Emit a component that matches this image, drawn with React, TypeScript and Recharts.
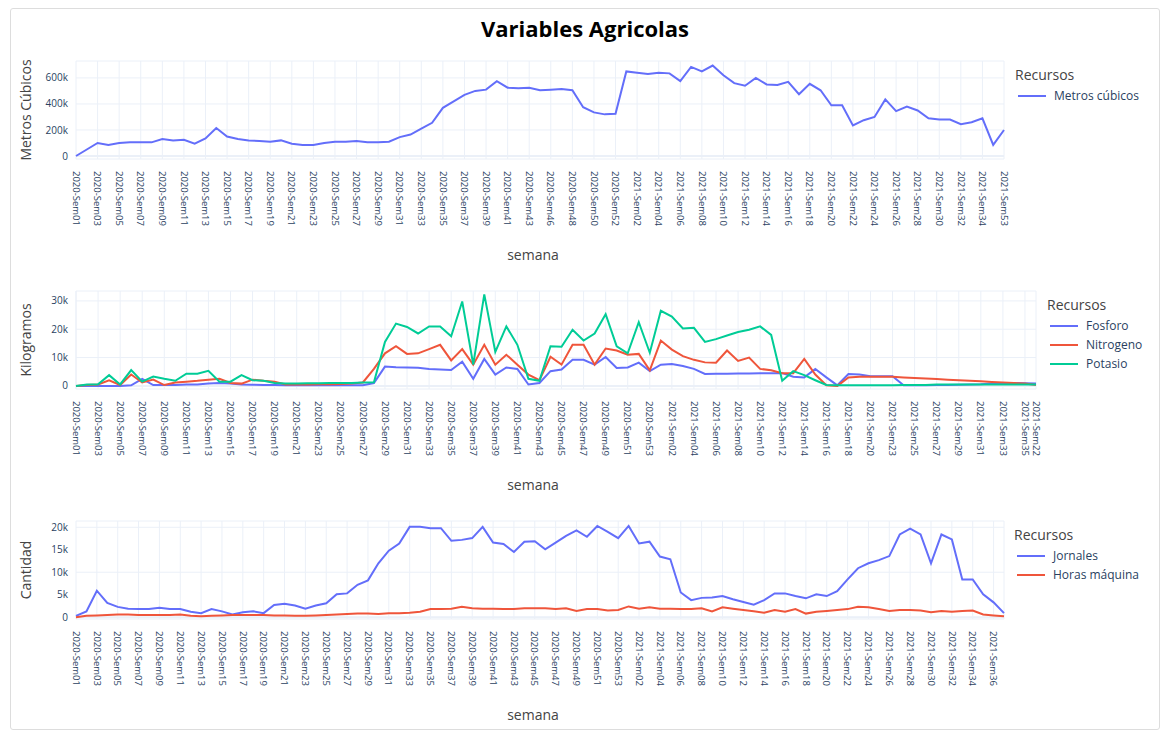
import React from "react";
import { CartesianGrid, Line, LineChart, ReferenceLine, XAxis, YAxis } from "recharts";

const pad = (n: number) => (n < 10 ? "0" + n : "" + n);
const weeks = (year: number, from: number, to: number, skip: number[] = []) => {
  const out: string[] = [];
  for (let w = from; w <= to; w++) if (!skip.includes(w)) out.push(`${year}-Sem${pad(w)}`);
  return out;
};

// Chart 1 — metros cúbicos (thousands)
const cat1 = [...weeks(2020, 1, 52, [44]), ...weeks(2021, 1, 35), "2021-Sem53"];
const metros = [
  0, 50, 100, 85, 100, 105, 105, 105, 130, 120, 125, 95, 135, 215, 150, 130, 120, 115, 110, 120,
  95, 85, 85, 100, 110, 110, 115, 105, 105, 110, 145, 165, 210, 255, 370, 420, 470, 500, 510, 575,
  525, 520, 525, 505, 510, 515, 505, 375, 335, 320, 325, 650, 640, 630, 640, 635, 575, 685, 650, 695,
  620, 560, 540, 600, 550, 545, 570, 475, 555, 505, 390, 390, 235, 275, 300, 435, 345, 380, 350, 290,
  280, 280, 245, 260, 290, 85, 200,
];

// Chart 2 — kilogramos (thousands)
const cat2 = [...weeks(2020, 1, 53), ...weeks(2021, 1, 35, [22]), "2021-Sem22"];
const fosforo = [
  0, 0, 0, 0, 0, 0.2, 2.5, 0.3, 0.3, 0.3, 0.5, 0.5, 0.8, 1.0, 0.8, 0.5, 0.4, 0.3, 0.3, 0.2,
  0.2, 0.2, 0.2, 0.2, 0.2, 0.2, 0.2, 1.0, 6.8, 6.6, 6.5, 6.4, 6.0, 5.8, 5.6, 8.5, 2.5, 9.5, 4.0, 6.5,
  6.0, 0.5, 1.0, 5.2, 5.8, 9.2, 9.2, 7.5, 10.2, 6.3, 6.5, 8.2, 5.2, 7.5, 7.7, 7.0, 6.0, 4.2, 4.3, 4.3,
  4.4, 4.4, 4.5, 4.5, 4.5, 3.2, 3.0, 6.0, 3.0, 0.2, 4.2, 4.0, 3.4, 3.4, 3.4, 0.2, 0.2, 0.2, 0.3, 0.3,
  0.4, 0.5, 0.6, 0.8, 1.0, 1.0, 0.9, 0.8,
];
const nitrogeno = [
  0, 0.3, 0.5, 2.0, 0.3, 4.0, 1.2, 2.2, 0.3, 1.2, 1.5, 1.8, 2.2, 2.5, 1.0, 0.8, 2.2, 1.8, 1.5, 0.5,
  0.5, 0.5, 0.6, 0.6, 0.7, 0.8, 1.2, 6, 11.5, 14, 11.3, 11.5, 13, 14.5, 9, 13, 7.5, 14.5, 7.5, 11,
  7.5, 4, 2, 10.3, 7.5, 14.5, 14.5, 7.5, 13.2, 12.5, 11, 11.3, 5.5, 16, 12.8, 10.5, 9.2, 8.3, 8.2, 12.5,
  8.8, 10, 6, 5.5, 4.5, 4.5, 9.5, 4, 0.2, 0, 3, 3.2, 3.2, 3.2, 3.2, 3.0, 2.8, 2.6, 2.4, 2.2,
  2.0, 1.8, 1.6, 1.4, 1.2, 1.0, 0.8, 0.3,
];
const potasio = [
  0, 0.5, 0.6, 3.8, 0.5, 5.6, 1.5, 3.3, 2.5, 1.8, 4.3, 4.3, 5.3, 1.5, 1.5, 3.8, 2.0, 1.8, 1.0, 0.8,
  0.8, 0.9, 0.9, 1.0, 1.0, 1.0, 1.2, 1.3, 15.5, 22, 20.8, 18.5, 21, 21, 17.5, 29.8, 7.5, 32.3, 12, 21,
  14.5, 2.5, 1.8, 14, 13.8, 19.8, 16, 18.5, 25.3, 14, 11.5, 22.5, 11.7, 26.5, 24.5, 20.3, 20.5, 15.5, 16.5, 17.8,
  19, 19.8, 21, 18, 1.8, 5.2, 3.8, 2.0, 0.3, 0.2, 0.2, 0.2, 0.2, 0.2, 0.2, 0.3, 0.3, 0.3, 0.5, 0.5,
  0.5, 0.5, 0.5, 0.5, 0.5, 0.5, 0.5, 0.5,
];

// Chart 3 — cantidad (thousands)
const cat3 = [...weeks(2020, 1, 53), ...weeks(2021, 1, 37)];
const jornales = [
  0.3, 1.3, 5.9, 3.2, 2.3, 1.9, 1.8, 1.8, 2.1, 1.8, 1.8, 1.2, 0.9, 1.8, 1.3, 0.6, 1.1, 1.3, 0.9, 2.7,
  3.0, 2.6, 1.9, 2.6, 3.1, 5.1, 5.3, 7.2, 8.2, 12, 14.8, 16.4, 20.1, 20.1, 19.8, 19.8, 17, 17.2, 17.6, 20.1,
  16.6, 16.3, 14.5, 16.8, 16.9, 15.1, 16.6, 18.1, 19.3, 17.9, 20.3, 19, 17.6, 20.3, 16.4, 16.8, 13.5, 12.9, 5.5, 3.8,
  4.3, 4.4, 4.7, 4.0, 3.4, 2.8, 3.8, 5.3, 5.3, 4.7, 4.2, 5.1, 4.7, 5.8, 8.4, 10.9, 12, 12.7, 13.6, 18.4,
  19.7, 18.4, 12, 18.4, 17.3, 8.4, 8.4, 5.1, 3.3, 0.9,
];
const horas = [
  0, 0.3, 0.4, 0.5, 0.6, 0.6, 0.5, 0.5, 0.5, 0.5, 0.6, 0.3, 0.2, 0.3, 0.4, 0.5, 0.5, 0.5, 0.5, 0.4,
  0.4, 0.3, 0.3, 0.4, 0.5, 0.6, 0.7, 0.8, 0.8, 0.7, 0.9, 0.9, 1.0, 1.2, 1.8, 1.8, 1.9, 2.3, 2.0, 1.9,
  1.9, 1.8, 1.8, 2.0, 2.0, 2.0, 1.8, 2.0, 1.4, 1.8, 1.8, 1.5, 1.6, 2.4, 1.9, 2.2, 1.9, 1.9, 1.8, 1.8,
  2.0, 1.3, 2.2, 1.9, 1.6, 1.3, 1.0, 1.6, 1.2, 1.8, 0.8, 1.2, 1.4, 1.6, 1.8, 2.3, 2.2, 1.8, 1.4, 1.6,
  1.6, 1.5, 1.1, 1.4, 1.2, 1.4, 1.5, 0.6, 0.4, 0.2,
];

const FONT = '"Open Sans", sans-serif';
const INK = "#2a3f5f";
const GRID = "#ebf0f8";
const BLUE = "#636efa";
const RED = "#EF553B";
const GREEN = "#00cc96";

const kfmt = (v: number) => (v === 0 ? "0" : `${v / 1000}k`);

const RotTick = (props: any) => {
  const { x, y, payload } = props;
  return (
    <text
      transform={`translate(${x},${y + 4}) rotate(90)`}
      textAnchor="start"
      dy="0.35em"
      fontSize={9.5}
      fill={INK}
      fontFamily={FONT}
    >
      {payload.value}
    </text>
  );
};

type S = { key: string; name: string; color: string; values: number[] };

function Panel({
  top, width, cats, series, domain, yTicks, yTitle, legendX, ticks,
}: {
  top: number; width: number; cats: string[]; series: S[]; domain: [number, number];
  yTicks: number[]; yTitle: string; legendX: number; ticks: string[];
}) {
  const data = cats.map((c, i) => {
    const row: Record<string, any> = { semana: c };
    series.forEach((s) => (row[s.key] = s.values[i] * 1000));
    return row;
  });
  return (
    <>
      <div style={{ position: "absolute", left: 10, top }}>
        <LineChart width={width} height={185} data={data} margin={{ top: 10, right: 12, bottom: 0, left: 0 }}>
          <CartesianGrid stroke={GRID} />
          <XAxis
            dataKey="semana"
            ticks={ticks}
            interval={0}
            height={77}
            tick={<RotTick />}
            axisLine={false}
            tickLine={false}
          />
          <YAxis
            width={55}
            domain={domain}
            ticks={yTicks}
            allowDataOverflow
            tickFormatter={kfmt}
            axisLine={false}
            tickLine={false}
            tick={{ fontSize: 10, fill: INK, fontFamily: FONT }}
          />
          <ReferenceLine y={0} stroke={GRID} strokeWidth={2} />
          {series.map((s) => (
            <Line
              key={s.key}
              dataKey={s.key}
              name={s.name}
              stroke={s.color}
              strokeWidth={2}
              dot={false}
              type="linear"
              isAnimationActive={false}
            />
          ))}
        </LineChart>
      </div>
      <div
        style={{
          position: "absolute", left: 14, top: top + 59, transform: "translate(-50%,-50%) rotate(-90deg)",
          fontSize: 14, color: "#444", whiteSpace: "nowrap",
        }}
      >
        {yTitle}
      </div>
      <div style={{ position: "absolute", left: 522, top: top + 194, transform: "translateX(-50%)", fontSize: 14, color: "#444" }}>
        semana
      </div>
      <div style={{ position: "absolute", left: legendX, top: top + 14, fontSize: 14, color: "#444" }}>
        <div style={{ marginBottom: 2 }}>Recursos</div>
        {series.map((s) => (
          <div key={s.key} style={{ display: "flex", alignItems: "center", height: 19, fontSize: 12, color: INK }}>
            <span style={{ display: "inline-block", width: 28, height: 2, background: s.color, margin: "0 8px 0 3px" }} />
            {s.name}
          </div>
        ))}
      </div>
    </>
  );
}

const everyOther = (cats: string[], withLast = false) => {
  const t = cats.filter((_, i) => i % 2 === 0);
  if (withLast && !t.includes(cats[cats.length - 1])) t.push(cats[cats.length - 1]);
  return t;
};

export default function App() {
  return (
    <div
      style={{
        position: "relative", width: 1150, height: 722, margin: "0 0 0 2px", border: "1px solid #ddd",
        borderRadius: 3, fontFamily: FONT, background: "#fff", boxSizing: "border-box",
      }}
    >
      <div style={{ position: "absolute", left: 0, right: 0, top: 4, textAlign: "center", fontSize: 22, fontWeight: 700, color: "#000" }}>
        Variables Agricolas
      </div>
      <Panel
        top={42} width={995} cats={cat1} ticks={everyOther(cat1)}
        series={[{ key: "m", name: "Metros cúbicos", color: BLUE, values: metros }]}
        domain={[-23000, 730000]} yTicks={[0, 200000, 400000, 600000]}
        yTitle="Metros Cúbicos" legendX={1004}
      />
      <Panel
        top={272} width={1027} cats={cat2} ticks={everyOther(cat2, true)}
        series={[
          { key: "f", name: "Fosforo", color: BLUE, values: fosforo },
          { key: "n", name: "Nitrogeno", color: RED, values: nitrogeno },
          { key: "p", name: "Potasio", color: GREEN, values: potasio },
        ]}
        domain={[-1100, 33500]} yTicks={[0, 10000, 20000, 30000]}
        yTitle="Kilogramos" legendX={1036}
      />
      <Panel
        top={502} width={995} cats={cat3} ticks={everyOther(cat3)}
        series={[
          { key: "j", name: "Jornales", color: BLUE, values: jornales },
          { key: "h", name: "Horas máquina", color: RED, values: horas },
        ]}
        domain={[-400, 21400]} yTicks={[0, 5000, 10000, 15000, 20000]}
        yTitle="Cantidad" legendX={1003}
      />
    </div>
  );
}
